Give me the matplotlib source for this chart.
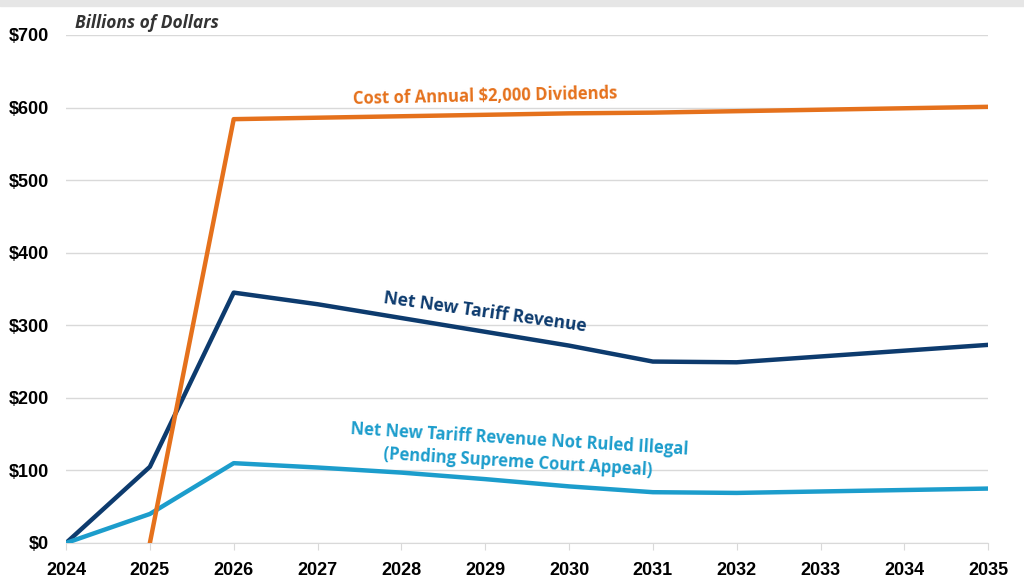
import matplotlib
matplotlib.use("Agg")
import matplotlib.pyplot as plt
from matplotlib.patches import Rectangle

years = [2024, 2025, 2026, 2027, 2028, 2029, 2030, 2031, 2032, 2033, 2034, 2035]
dividends_years = [2025, 2026, 2027, 2028, 2029, 2030, 2031, 2032, 2033, 2034, 2035]
dividends = [0, 584, 586, 588, 590, 592, 593, 595, 597, 599, 601]
net_revenue = [0, 105, 345, 329, 310, 291, 272, 250, 249, 257, 265, 273]
not_illegal = [0, 40, 110, 104, 97, 88, 78, 70, 69, 71, 73, 75]
yticks = [0, 100, 200, 300, 400, 500, 600, 700]

c_orange = "#E5711C"
c_navy = "#0D3B6E"
c_light = "#1C9DCC"

fig = plt.figure(figsize=(10.24, 5.8), dpi=100)
fig.patches.append(Rectangle((0, 0.99), 1, 0.01, transform=fig.transFigure,
                             color="#e6e6e6", zorder=0))
ax = fig.add_axes([0.0645, 0.0638, 0.9005, 0.8759])

ax.plot(years, net_revenue, color=c_navy, lw=3.2, zorder=3)
ax.plot(years, not_illegal, color=c_light, lw=3.2, zorder=3)
ax.plot(dividends_years, dividends, color=c_orange, lw=3.2, zorder=4)

ax.set_xlim(2024, 2035)
ax.set_ylim(0, 700)
ax.set_yticks(yticks)
ax.set_yticklabels([f"${v}" for v in yticks])
ax.set_xticks(years)
ax.set_xticklabels([str(y) for y in years])
ax.grid(axis="y", color="#d9d9d9", lw=1)
ax.set_axisbelow(True)
for s in ["top", "right", "left"]:
    ax.spines[s].set_visible(False)
ax.spines["bottom"].set_color("#d9d9d9")
ax.tick_params(axis="y", length=0, pad=12)
ax.tick_params(axis="x", length=5, color="#d9d9d9", pad=9)
for lab in ax.get_xticklabels() + ax.get_yticklabels():
    lab.set_fontfamily("Liberation Sans")
    lab.set_fontweight("bold")
    lab.set_fontsize(13)

ax.text(0.01, 1.005, "Billions of Dollars", transform=ax.transAxes, fontsize=12.5,
        fontstyle="italic", fontweight="bold", color="#333333", family="Open Sans",
        va="bottom", ha="left")

ax.text(2029.0, 616, "Cost of Annual $2,000 Dividends", color=c_orange, fontsize=12,
        fontweight="bold", family="Open Sans", rotation=1.2, ha="center", va="center")
ax.text(2029.0, 318, "Net New Tariff Revenue", color=c_navy, fontsize=12.5,
        fontweight="bold", family="Open Sans", rotation=-8, ha="center", va="center")
ax.text(2029.4, 127, "Net New Tariff Revenue Not Ruled Illegal\n(Pending Supreme Court Appeal)",
        color=c_light, fontsize=12, fontweight="bold", family="Open Sans",
        rotation=-3.5, ha="center", va="center", linespacing=1.3)

fig.savefig("out.png", dpi=100)
